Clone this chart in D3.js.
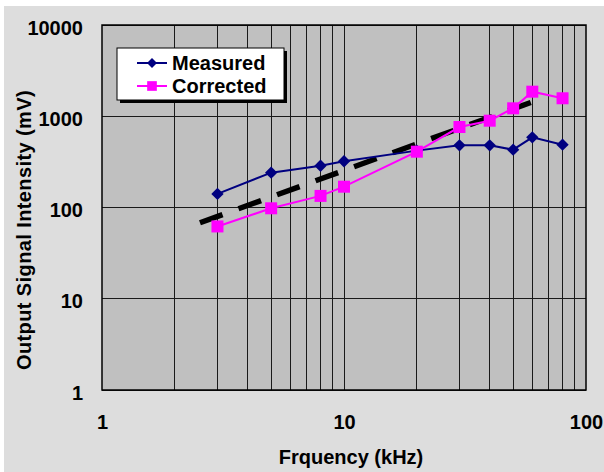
<!DOCTYPE html>
<html>
<head>
<meta charset="utf-8">
<script src="https://cdn.jsdelivr.net/npm/d3@7"></script>
<style>
  html, body { margin: 0; padding: 0; background: #fff; }
  svg { display: block; font-family: "Liberation Sans", Arial, sans-serif; }
</style>
</head>
<body>
<svg id="chart"></svg>
<script>
// data
const freq = [3, 5, 8, 10, 20, 30, 40, 50, 60, 80];
const measured = [141, 241, 287, 321, 420, 480, 480, 430, 588, 488];
const corrected = [62, 98, 134, 169, 409, 762, 894, 1222, 1859, 1574];
const trendX = [2.54, 63];
const trendY = [68, 1505];
const xTicks = [1, 10, 100];
const yTicks = [1, 10, 100, 1000, 10000];

const width = 604, height = 472;
const margin = { top: 25, right: 18, bottom: 82, left: 102 };

const svg = d3.select("#chart").attr("width", width).attr("height", height);

svg.append("rect").attr("x", 4).attr("y", 6)
    .attr("width", width - 4).attr("height", height - 6).attr("fill", "#dddddd");

const x = d3.scaleLog().domain([1, 100]).range([margin.left, width - margin.right]);
const y = d3.scaleLog().domain([1, 10000]).range([height - margin.bottom, margin.top]);

const [x0, x1] = x.range();
const [y1, y0] = y.range();

svg.append("rect")
    .attr("x", x0).attr("y", y0)
    .attr("width", x1 - x0).attr("height", y1 - y0)
    .attr("fill", "#c0c0c0");

// vertical grid at every minor log step
const xGrid = d3.range(0, 2).flatMap(e => d3.range(1, 10).map(m => m * Math.pow(10, e))).filter(v => v > 1);
svg.append("g").selectAll("line").data(xGrid).enter().append("line")
    .attr("x1", d => x(d)).attr("x2", d => x(d))
    .attr("y1", y0).attr("y2", y1)
    .attr("stroke", "#1a1a1a").attr("stroke-width", 1)
    .attr("shape-rendering", "crispEdges");

svg.append("g").selectAll("line").data(yTicks).enter().append("line")
    .attr("x1", x0).attr("x2", x1)
    .attr("y1", d => y(d)).attr("y2", d => y(d))
    .attr("stroke", "#1a1a1a").attr("stroke-width", 1)
    .attr("shape-rendering", "crispEdges");

svg.append("rect")
    .attr("x", x0).attr("y", y0)
    .attr("width", x1 - x0).attr("height", y1 - y0)
    .attr("fill", "none").attr("stroke", "#000").attr("stroke-width", 1.5);

// axes (labels only)
const yAxis = svg.append("g")
    .attr("transform", `translate(${x0},0)`)
    .call(d3.axisLeft(y).tickValues(yTicks).tickFormat(d3.format("d")).tickSize(0).tickPadding(19));
const xAxis = svg.append("g")
    .attr("transform", `translate(0,${y1})`)
    .call(d3.axisBottom(x).tickValues(xTicks).tickFormat(d3.format("d")).tickSize(0).tickPadding(25));
[yAxis, xAxis].forEach(a => {
  a.select(".domain").remove();
  a.selectAll("text")
      .attr("font-family", "Liberation Sans, Arial, sans-serif")
      .attr("font-size", 20).attr("font-weight", "bold").attr("fill", "#000");
});
yAxis.selectAll("text").attr("dy", "0.45em");

// trend line
svg.append("path")
    .datum(trendX.map((v, i) => [v, trendY[i]]))
    .attr("d", d3.line().x(d => x(d[0])).y(d => y(d[1])))
    .attr("fill", "none").attr("stroke", "#000").attr("stroke-width", 5.5)
    .attr("stroke-dasharray", "24,17");

// diamond = square turned 45deg
const series = [
  { name: "Measured", values: measured, color: "#000080", shape: d3.symbolSquare, size: 76, rot: 45 },
  { name: "Corrected", values: corrected, color: "#ff00ff", shape: d3.symbolSquare, size: 144, rot: 0 }
];

const line = d3.line().x(d => x(d[0])).y(d => y(d[1]));

series.forEach(s => {
  const pts = freq.map((f, i) => [f, s.values[i]]);
  svg.append("path").datum(pts)
      .attr("d", line)
      .attr("fill", "none").attr("stroke", s.color).attr("stroke-width", 2);
  svg.append("g").selectAll("path").data(pts).enter().append("path")
      .attr("transform", d => `translate(${x(d[0])},${y(d[1])}) rotate(${s.rot})`)
      .attr("d", d3.symbol().type(s.shape).size(s.size))
      .attr("fill", s.color);
});

// legend
const lg = svg.append("g").attr("transform", "translate(117,48)");
lg.append("rect").attr("x", 3).attr("y", 3).attr("width", 167).attr("height", 52).attr("fill", "#000");
lg.append("rect").attr("x", 0).attr("y", 0).attr("width", 167).attr("height", 52)
    .attr("fill", "#fff").attr("stroke", "#000").attr("stroke-width", 1);

series.forEach((s, i) => {
  const cy = 15 + i * 23;
  lg.append("line").attr("x1", 20).attr("x2", 50).attr("y1", cy).attr("y2", cy)
      .attr("stroke", s.color).attr("stroke-width", 2);
  lg.append("path").attr("transform", `translate(35,${cy}) rotate(${s.rot})`)
      .attr("d", d3.symbol().type(s.shape).size(s.size * 0.65))
      .attr("fill", s.color);
  lg.append("text").attr("x", 55).attr("y", cy + 7)
      .attr("font-size", 20).attr("font-weight", "bold")
      .text(s.name);
});

// axis titles
svg.append("text")
    .attr("x", 351).attr("y", 464)
    .attr("text-anchor", "middle")
    .attr("font-size", 20).attr("font-weight", "bold")
    .text("Frquency (kHz)");

svg.append("text")
    .attr("transform", "translate(31,230) rotate(-90)")
    .attr("text-anchor", "middle")
    .attr("font-size", 20).attr("font-weight", "bold")
    .attr("letter-spacing", 0.4)
    .text("Output Signal Intensity (mV)");
</script>
</body>
</html>
